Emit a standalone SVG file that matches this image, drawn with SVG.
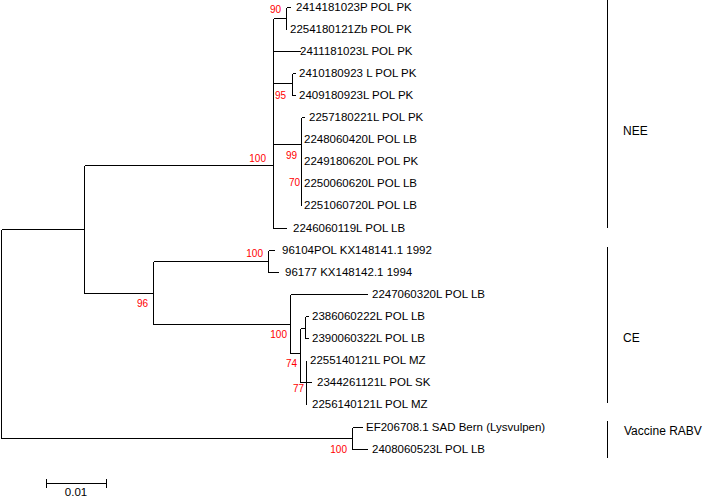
<svg xmlns="http://www.w3.org/2000/svg" width="704" height="497" viewBox="0 0 704 497">
<style>
.br{fill:none;stroke:#000;stroke-width:1;shape-rendering:crispEdges}
.tip{font-family:"Liberation Sans",Arial,sans-serif;font-size:11.5px;fill:#000}
.bs{font-family:"Liberation Sans",Arial,sans-serif;font-size:10px;fill:#ff0000;text-anchor:end}
.cl{font-family:"Liberation Sans",Arial,sans-serif;font-size:12px;fill:#000}
</style>
<rect width="704" height="497" fill="#fff"/>
<g id="connectors" class="br">
<path d="M1.5,229.5V438.5M1.5,229.5H84.5M1.5,438.5H352.5"/>
<path d="M84.5,165.5V293.5M84.5,165.5H273.5M84.5,293.5H153.5"/>
<path d="M273.5,18.5V228.5M273.5,18.5H286.5M273.5,51.5H301M273.5,83.5H292.5M273.5,144.5H301.5M273.5,228.5H287"/>
<path d="M286.5,7.5V29.5M286.5,7.5H291"/>
<path d="M292.5,73.5V95.5M292.5,73.5H296M292.5,95.5H296"/>
<path d="M301.5,117.5V205.5M301.5,117.5H305"/>
<path d="M153.5,261.5V324.5M153.5,261.5H268.5M153.5,324.5H290.5"/>
<path d="M268.5,250.5V272.5M268.5,250.5H275M268.5,272.5H279"/>
<path d="M290.5,294.5V353.5M290.5,294.5H368M290.5,353.5H300.5"/>
<path d="M300.5,328.5V382.5M300.5,328.5H305.5M300.5,382.5H306.5"/>
<path d="M305.5,316.5V338.5M305.5,316.5H309M305.5,338.5H309"/>
<path d="M306.5,360.5V404.5M306.5,382.5H312"/>
<path d="M352.5,427.5V449.5M352.5,427.5H363M352.5,449.5H368"/>
</g>
<g id="bootstrap">
<text class="bs" x="281" y="13">90</text>
<text class="bs" x="286" y="99">95</text>
<text class="bs" x="266" y="162">100</text>
<text class="bs" x="297" y="159">99</text>
<text class="bs" x="300" y="186">70</text>
<text class="bs" x="263" y="257">100</text>
<text class="bs" x="148" y="307">96</text>
<text class="bs" x="287" y="338">100</text>
<text class="bs" x="297" y="367">74</text>
<text class="bs" x="304" y="392">77</text>
<text class="bs" x="347" y="453">100</text>
</g>
<g id="t1"><text class="tip" x="296" y="11">2414181023P POL PK</text></g>
<g id="t2"><text class="tip" x="290" y="33">2254180121Zb POL PK</text></g>
<g id="t3"><text class="tip" x="300" y="55">2411181023L POL PK</text></g>
<g id="t4"><text class="tip" x="299" y="77">2410180923 L POL PK</text></g>
<g id="t5"><text class="tip" x="299" y="99">2409180923L POL PK</text></g>
<g id="t6"><text class="tip" x="309" y="121">2257180221L POL PK</text></g>
<g id="t7"><text class="tip" x="304" y="143">2248060420L POL LB</text></g>
<g id="t8"><text class="tip" x="304" y="165">2249180620L POL PK</text></g>
<g id="t9"><text class="tip" x="304" y="187">2250060620L POL LB</text></g>
<g id="t10"><text class="tip" x="304" y="209">2251060720L POL LB</text></g>
<g id="t11"><text class="tip" x="293" y="232">2246060119L POL LB</text></g>
<g id="t12"><text class="tip" x="282" y="254">96104POL KX148141.1 1992</text></g>
<g id="t13"><text class="tip" x="285" y="276">96177 KX148142.1 1994</text></g>
<g id="t14"><text class="tip" x="372" y="298">2247060320L POL LB</text></g>
<g id="t15"><text class="tip" x="312" y="320">2386060222L POL LB</text></g>
<g id="t16"><text class="tip" x="312" y="342">2390060322L POL LB</text></g>
<g id="t17"><text class="tip" x="310" y="364">2255140121L POL MZ</text></g>
<g id="t18"><text class="tip" x="317" y="386">2344261121L POL SK</text></g>
<g id="t19"><text class="tip" x="312" y="408">2256140121L POL MZ</text></g>
<g id="t20"><text class="tip" x="366" y="431">EF206708.1 SAD Bern (Lysvulpen)</text></g>
<g id="t21"><text class="tip" x="372" y="453">2408060523L POL LB</text></g>
<g id="clade-NEE"><path class="br" d="M607.5,0V228"/><text class="cl" x="623" y="135">NEE</text></g>
<g id="clade-CE"><path class="br" d="M607.5,247V403"/><text class="cl" x="623" y="342">CE</text></g>
<g id="clade-vaccine"><path class="br" d="M607.5,421V458"/><text class="cl" x="624" y="435">Vaccine RABV</text></g>
<g id="scale"><path class="br" d="M46.5,483.5H106.5M46.5,479V488M106.5,479V488"/><text class="tip" x="76" y="496" text-anchor="middle">0.01</text></g>
</svg>
